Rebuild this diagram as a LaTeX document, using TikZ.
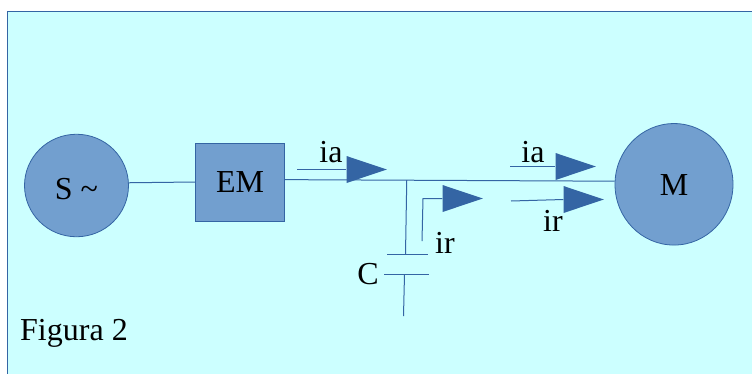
\documentclass[tikz,border=0pt]{standalone}
\usepackage{fontspec}
\setmainfont{Liberation Serif}
\usepackage{tikz}
\usetikzlibrary{shapes.geometric}
\definecolor{panelcyan}{HTML}{CCFFFF}
\definecolor{partblue}{HTML}{729FCF}
\definecolor{wireblue}{HTML}{3465A4}
\tikzset{
    every node/.style={font=\fontsize{32}{36}\selectfont,text=black},
    panel/.style={draw=wireblue,fill=panelcyan,line width=1pt},
    machine/.style={ellipse,draw=wireblue,fill=partblue,inner sep=0pt,line width=.8pt,text depth=0pt},
    block/.style={rectangle,draw=wireblue,fill=partblue,minimum width=89.5pt,minimum height=78pt,inner sep=0pt,line width=.8pt},
    wire/.style={draw=wireblue,line width=1pt},
    head/.style={isosceles triangle,isosceles triangle apex angle=37,anchor=apex,fill=wireblue,minimum width=27pt,minimum height=40pt,inner sep=0pt},
    tag/.style={anchor=base,inner sep=0pt}
}
\begin{document}
\begin{tikzpicture}[x=1pt,y=-1pt]
    \useasboundingbox (0,0) rectangle (752,373);
    \draw[panel] (7.5,11.5) rectangle (760,380);
    % parts
    \node[machine,minimum width=104pt,minimum height=102.5pt,text height=28pt] (src) at (76.5,185.5) {S \char`~};
    \node[block] (em) at (240,182) {EM};
    \node[machine,minimum width=118pt,minimum height=121.5pt,text height=23pt] (mot) at (674,184.3) {M};
    \draw[wire] (src.3)--(em.west);
    \draw[wire] (em.3)--coordinate[pos=.369] (jun) (mot.177.3);
    % capacitor
    \coordinate (capa) at (405.5,254.5);
    \coordinate (capb) at (404.5,274.5);
    \coordinate (capl) at (387,254.5);
    \coordinate (capr) at (428,254.5);
    \coordinate (botl) at (384,274.5);
    \coordinate (botr) at (429,274.5);
    \coordinate (earth) at (403.5,316);
    \draw[wire] (jun)--(capa);
    \draw[wire] (capl)--(capr);
    \draw[wire] (botl)--(botr);
    \draw[wire] (capb)--(earth);
    \node[tag] (clab) at (368,284) {C};
    % currents
    \node[head] (heada) at (387.5,169.5) {};
    \node[head] (headb) at (596.5,166.5) {};
    \node[head] (headc) at (483.5,198.5) {};
    \node[head] (headd) at (604.5,199.5) {};
    \coordinate (taila) at (297,169.5);
    \coordinate (tailb) at (510,166.5);
    \coordinate (tailc) at (422,241);
    \coordinate (bendc) at (423,198.5);
    \coordinate (taild) at (511,201);
    \draw[wire] (taila)--(heada.lower side);
    \draw[wire] (tailb)--(headb.lower side);
    \draw[wire] (tailc)--(bendc)--(headc.lower side);
    \draw[wire] (taild)--(headd.lower side);
    \node[tag] (iaa) at (331,162) {ia};
    \node[tag] (iab) at (533,162) {ia};
    \node[tag] (irc) at (445,253) {ir};
    \node[tag] (ird) at (553,231) {ir};
    \node[anchor=base west,inner sep=0pt] (fig) at (20,340) {Figura 2};
\end{tikzpicture}
\end{document}
